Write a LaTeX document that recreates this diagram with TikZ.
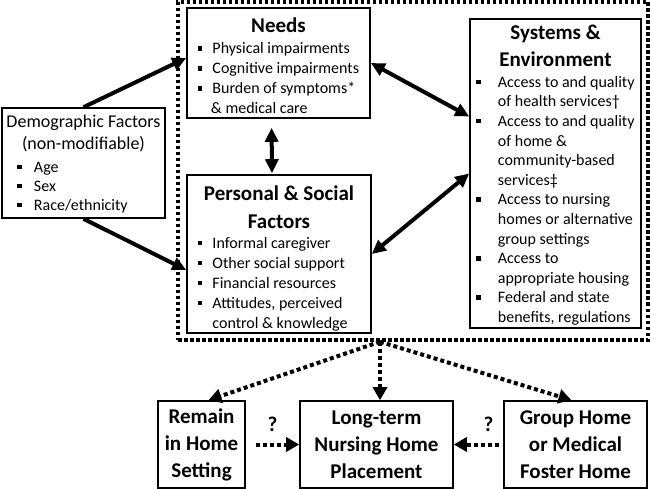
\documentclass[tikz,border=0pt]{standalone}
\usepackage{fontspec}
\setmainfont{Carlito}
\usepackage{tikz}
\usetikzlibrary{arrows.meta, positioning}

\newcommand{\bul}{\rule[3.2pt]{4.5pt}{4.5pt}}
\newcommand{\ttl}{\fontsize{21}{25}\selectfont\bfseries}
\newcommand{\txt}{\fontsize{16}{20}\selectfont}
\newcommand{\sink}[2]{\raisebox{-#1}[\height][\depth]{#2}}

\begin{document}
\begin{tikzpicture}[x=1pt, y=-1pt,
    box/.style={draw, line width=1.6pt, inner sep=2pt},
    context/.style={draw, line width=3.5pt, dash pattern=on 3.5pt off 2.5pt},
    link/.style={line width=4pt, -{Triangle[length=14pt,width=13pt]}},
    both/.style={line width=4pt, {Triangle[length=14pt,width=13pt]}-{Triangle[length=14pt,width=13pt]}},
    flow/.style={line width=4pt, dash pattern=on 4pt off 3pt, -{Triangle[length=13pt,width=14pt]}},
    outcome/.style={box, align=center, font=\fontsize{21}{27}\selectfont\bfseries, minimum height=87pt}]
    \useasboundingbox (0,0) rectangle (651,489);
    % modifiable factors
    \node[context, minimum width=470pt, minimum height=338pt] (frame) at (413,171) {};
    \node[box, minimum width=183pt, minimum height=110pt] (needs) at (278.5,63) {\sink{6pt}{\txt
      \begin{tabular}{@{}l@{\hspace{10pt}}l@{}}
        \multicolumn{2}{c}{\ttl Needs}\\[1pt]
        \bul & Physical impairments\\
        \bul & Cognitive impairments\\
        \bul & Burden of symptoms*\\
             & \hspace{-1.5pt}\& medical care
      \end{tabular}}};
    \node[box, minimum width=184pt, minimum height=158pt] (personal) at (279,254) {\sink{6pt}{\txt
      \begin{tabular}{@{}l@{\hspace{10pt}}l@{}}
        \multicolumn{2}{c}{\ttl Personal \& Social}\\[8pt]
        \multicolumn{2}{c}{\ttl Factors}\\
        \bul & Informal caregiver\\
        \bul & Other social support\\
        \bul & Financial resources\\
        \bul & Attitudes, perceived\\
             & control \& knowledge
      \end{tabular}}};
    \node[box, minimum width=171pt, minimum height=309pt] (systems) at (555.5,173.5) {\sink{3pt}{\fontsize{16}{19.6}\selectfont
      \begin{tabular}{@{}l@{\hspace{17pt}}l@{}}
        \multicolumn{2}{c}{\ttl Systems \&}\\[7pt]
        \multicolumn{2}{c}{\ttl Environment}\\[1pt]
        \bul & Access to and quality\\
             & of health services\textdagger\\
        \bul & Access to and quality\\
             & of home \&\\
             & community-based\\
             & services\textdaggerdbl\\
        \bul & Access to nursing\\
             & homes or alternative\\
             & group settings\\
        \bul & Access to\\
             & appropriate housing\\
        \bul & Federal and state\\
             & benefits, regulations
      \end{tabular}}};
    % fixed factors
    \node[box, minimum width=163pt, minimum height=110pt] (demog) at (83.5,163) {\sink{2pt}{\fontsize{16}{19}\selectfont
      \begin{tabular}{@{\hspace{11pt}}l@{\hspace{12pt}}l@{}}
        \multicolumn{2}{@{}c@{}}{\fontsize{18}{21}\selectfont Demographic Factors}\\[3pt]
        \multicolumn{2}{@{}c@{}}{\fontsize{18}{21}\selectfont (non-modifiable)}\\[4pt]
        \bul & Age\\
        \bul & Sex\\
        \bul & Race/ethnicity
      \end{tabular}}};
    % outcomes
    \node[outcome, minimum width=87pt] (remain) at (201.5,444.5) {Remain\\in Home\\Setting};
    \node[outcome, minimum width=153pt] (nursing) at (376.5,444.5) {Long-term\\Nursing Home\\Placement};
    \node[outcome, minimum width=143pt] (group) at (575.5,444.5) {Group Home\\or Medical\\Foster Home};
    \coordinate (hub) at ([xshift=-33pt]frame.south);
    \draw[link] (demog.north) -- ([yshift=5pt]needs.west);
    \draw[link] (demog.south) -- ([yshift=-16pt]personal.west);
    \draw[both] (needs.east) -- ([yshift=57pt]systems.west);
    \draw[both] (personal.east) -- (systems.west);
    \draw[both, shorten <=9pt, shorten >=1pt] ([xshift=-7pt]needs.south) -- ([xshift=-7pt]personal.north);
    \draw[flow] (hub) -- ([xshift=7pt]remain.north);
    \draw[flow] (hub) -- (hub |- nursing.north);
    \draw[flow] (hub) -- ([xshift=-4pt]group.north);
    \draw[flow, shorten <=10pt] (remain) -- node[above=8pt, font=\ttl] {?} (nursing);
    \draw[flow, shorten <=4pt] (group) -- node[pos=0.3, above=8pt, font=\ttl] {?} (nursing);
\end{tikzpicture}
\end{document}
